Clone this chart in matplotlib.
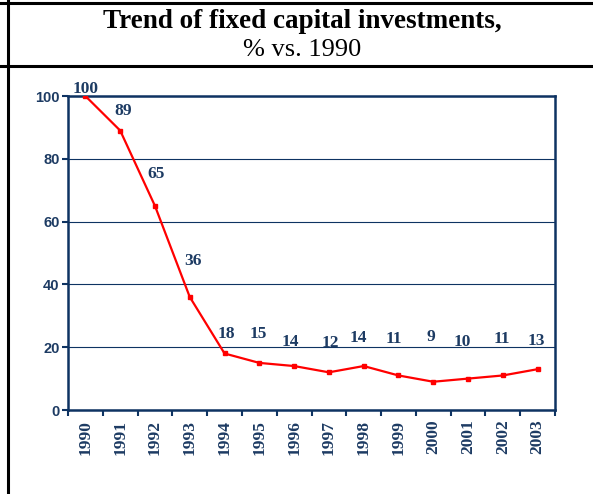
import matplotlib.pyplot as plt
from matplotlib.lines import Line2D
import numpy as np

years = ['1990', '1991', '1992', '1993', '1994', '1995', '1996',
         '1997', '1998', '1999', '2000', '2001', '2002', '2003']
investment = [100, 89, 65, 36, 18, 15, 14, 12, 14, 11, 9, 10, 11, 13]

# label nudges in points (dx, dy) relative to each point
label_offsets = [(0, 5), (2, 14), (1, 23), (2, 26), (1, 14), (-1, 21), (-3, 17),
                 (1, 21), (-4, 20), (-3, 26), (-2, 32), (-4, 26), (-1, 26), (-1, 20)]

navy = '#0e3362'
label_color = '#1d3b63'

fig = plt.figure(figsize=(5.93, 4.94), dpi=100)
ax = fig.add_axes([68 / 593, 1 - 410 / 494, 487 / 593, 314 / 494])

x = np.arange(len(years))
ax.plot(x, investment, color='red', lw=1.6, marker='s', ms=2.4, zorder=3)

for xi, v, (dx, dy) in zip(x, investment, label_offsets):
    ax.annotate(str(v), (xi, v), xytext=(dx, dy), textcoords='offset points',
                ha='center', va='center', fontsize=12.5, fontweight='bold',
                family='Liberation Serif', color=label_color)

ax.set_xlim(-0.5, len(years) - 0.5)
ax.set_ylim(0, 100)
ax.set_yticks([0, 20, 40, 60, 80, 100])
ax.yaxis.grid(True, color=navy, lw=0.8)
ax.set_axisbelow(True)

ax.set_xticks(x)
ax.set_xticklabels(years, rotation=90, fontsize=12.5, fontweight='bold',
                   family='Liberation Serif', color=label_color)
ax.set_xticks(np.arange(len(years) + 1) - 0.5, minor=True)
ax.tick_params(axis='x', which='major', length=0, pad=7)
ax.tick_params(axis='x', which='minor', length=4, width=1.5, color=navy)
ax.tick_params(axis='y', length=4, width=1.5, color=navy, pad=2)
for lbl in ax.get_yticklabels():
    lbl.set_family('Liberation Sans')
    lbl.set_fontweight('bold')
    lbl.set_fontsize(10.5)
    lbl.set_color(label_color)

for sp in ax.spines.values():
    sp.set_color(navy)
    sp.set_linewidth(1.8)

# frame around the title block
for coords in [([0, 1], [1 - 3 / 494] * 2), ([0, 1], [1 - 66 / 494] * 2),
               ([8 / 593] * 2, [0, 1])]:
    fig.add_artist(Line2D(coords[0], coords[1], color='black', lw=2.2,
                          transform=fig.transFigure))

fig.text(0.51, 1 - 21 / 494, 'Trend of fixed capital investments,', ha='center',
         va='center', fontsize=19.5, fontweight='bold', family='Liberation Serif')
fig.text(0.51, 1 - 50 / 494, '% vs. 1990', ha='center', va='center',
         fontsize=19, family='Liberation Serif')

fig.savefig('out.png', dpi=100)
